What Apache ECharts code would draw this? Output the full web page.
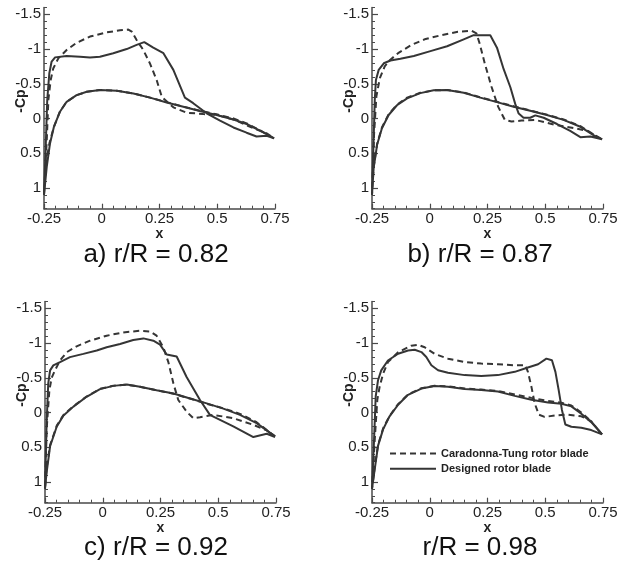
<!DOCTYPE html>
<html>
<head>
<meta charset="utf-8">
<script src="https://cdn.jsdelivr.net/npm/echarts@6/dist/echarts.min.js"></script>
<style>
html,body{margin:0;padding:0;background:#fff;}
#main{width:630px;height:567px;}
</style>
</head>
<body>
<div id="main"></div>
<script>
// ---- Data (x, Cp) ----
var xTicks = [-0.25, 0, 0.25, 0.5, 0.75];
var yTicks = [-1.5, -1, -0.5, 0, 0.5, 1];
var captions = ['a) r/R = 0.82', 'b) r/R = 0.87', 'c) r/R = 0.92', 'r/R = 0.98'];
var legendNames = ['Caradonna-Tung rotor blade', 'Designed rotor blade'];

// Panel a (r/R = 0.82)
var ctUpperA = [[-0.25,1.1],[-0.238,0.31],[-0.231,-0.27],[-0.221,-0.555],[-0.21,-0.72],[-0.188,-0.866],[-0.152,-0.986],[-0.109,-1.09],[-0.051,-1.18],[0.021,-1.24],[0.079,-1.27],[0.115,-1.28],[0.13,-1.25],[0.151,-1.13],[0.18,-0.986],[0.209,-0.79],[0.238,-0.55],[0.26,-0.31],[0.31,-0.16],[0.368,-0.083],[0.44,-0.064],[0.497,-0.05],[0.57,0.014],[0.656,0.14],[0.714,0.215],[0.746,0.287]];
var ctLowerA = [[-0.25,1.1],[-0.24,0.62],[-0.226,0.35],[-0.207,0.12],[-0.181,-0.1],[-0.152,-0.24],[-0.109,-0.335],[-0.065,-0.385],[-0.008,-0.41],[0.065,-0.4],[0.137,-0.36],[0.209,-0.3],[0.281,-0.235],[0.353,-0.17],[0.425,-0.11],[0.497,-0.06],[0.57,0.0],[0.627,0.07],[0.685,0.17],[0.746,0.287]];
var dsUpperA = [[-0.25,1.1],[-0.243,0.455],[-0.236,-0.266],[-0.227,-0.651],[-0.217,-0.82],[-0.202,-0.88],[-0.152,-0.9],[-0.094,-0.89],[-0.051,-0.88],[-0.008,-0.89],[0.05,-0.94],[0.108,-1.0],[0.151,-1.06],[0.184,-1.1],[0.223,-1.02],[0.267,-0.94],[0.31,-0.7],[0.36,-0.3],[0.396,-0.22],[0.454,-0.075],[0.512,0.03],[0.57,0.13],[0.627,0.205],[0.67,0.26],[0.714,0.25],[0.746,0.287]];
var dsLowerA = [[-0.25,1.1],[-0.238,0.695],[-0.224,0.36],[-0.207,0.12],[-0.181,-0.097],[-0.152,-0.24],[-0.109,-0.336],[-0.065,-0.385],[-0.008,-0.41],[0.065,-0.4],[0.137,-0.36],[0.209,-0.3],[0.281,-0.23],[0.353,-0.17],[0.425,-0.107],[0.497,-0.05],[0.57,0.014],[0.627,0.08],[0.685,0.176],[0.746,0.287]];

// Panel b (r/R = 0.87)
var ctUpperB = [[-0.25,1.1],[-0.241,0.22],[-0.231,-0.32],[-0.216,-0.58],[-0.195,-0.75],[-0.173,-0.84],[-0.137,-0.94],[-0.079,-1.06],[-0.022,-1.14],[0.05,-1.2],[0.122,-1.25],[0.18,-1.265],[0.202,-1.225],[0.216,-1.08],[0.238,-0.795],[0.267,-0.46],[0.296,-0.17],[0.325,0.02],[0.354,0.045],[0.397,0.03],[0.455,0.02],[0.541,0.09],[0.628,0.14],[0.685,0.18],[0.746,0.3]];
var ctLowerB = [[-0.25,1.1],[-0.243,0.7],[-0.228,0.37],[-0.207,0.13],[-0.178,-0.06],[-0.142,-0.2],[-0.098,-0.3],[-0.041,-0.37],[0.017,-0.405],[0.075,-0.41],[0.147,-0.375],[0.219,-0.305],[0.291,-0.24],[0.363,-0.175],[0.435,-0.115],[0.507,-0.055],[0.579,0.015],[0.652,0.11],[0.709,0.23],[0.746,0.3]];
var dsUpperB = [[-0.25,1.1],[-0.243,0.31],[-0.238,-0.27],[-0.233,-0.555],[-0.221,-0.7],[-0.199,-0.795],[-0.17,-0.835],[-0.127,-0.86],[-0.069,-0.9],[0.003,-0.97],[0.075,-1.04],[0.147,-1.14],[0.19,-1.2],[0.262,-1.2],[0.291,-1.02],[0.32,-0.71],[0.349,-0.45],[0.37,-0.21],[0.385,-0.07],[0.406,-0.01],[0.435,-0.01],[0.457,-0.045],[0.493,-0.01],[0.551,0.08],[0.608,0.18],[0.652,0.27],[0.695,0.26],[0.746,0.3]];
var dsLowerB = [[-0.25,1.1],[-0.243,0.72],[-0.228,0.38],[-0.207,0.14],[-0.178,-0.05],[-0.142,-0.19],[-0.098,-0.29],[-0.041,-0.365],[0.017,-0.405],[0.075,-0.41],[0.147,-0.37],[0.219,-0.3],[0.291,-0.235],[0.363,-0.17],[0.435,-0.11],[0.507,-0.05],[0.579,0.02],[0.652,0.12],[0.709,0.24],[0.746,0.3]];

// Panel c (r/R = 0.92)
var ctUpperC = [[-0.25,1.1],[-0.243,0.249],[-0.231,-0.321],[-0.221,-0.502],[-0.207,-0.606],[-0.185,-0.749],[-0.156,-0.868],[-0.113,-0.953],[-0.055,-1.034],[0.017,-1.106],[0.089,-1.153],[0.161,-1.177],[0.205,-1.167],[0.233,-1.106],[0.262,-0.939],[0.284,-0.725],[0.306,-0.416],[0.327,-0.179],[0.363,-0.012],[0.392,0.083],[0.421,0.068],[0.479,0.035],[0.565,0.083],[0.652,0.178],[0.71,0.259],[0.746,0.344]];
var ctLowerC = [[-0.25,1.1],[-0.243,0.8],[-0.228,0.47],[-0.199,0.19],[-0.171,0.04],[-0.127,-0.09],[-0.07,-0.23],[-0.012,-0.34],[0.046,-0.385],[0.104,-0.4],[0.161,-0.37],[0.233,-0.32],[0.306,-0.27],[0.378,-0.2],[0.45,-0.125],[0.522,-0.06],[0.594,0.02],[0.666,0.14],[0.746,0.344]];
var dsUpperC = [[-0.25,1.1],[-0.243,0.154],[-0.236,-0.416],[-0.228,-0.607],[-0.214,-0.678],[-0.185,-0.725],[-0.142,-0.797],[-0.084,-0.844],[-0.026,-0.892],[0.017,-0.939],[0.075,-0.987],[0.132,-1.044],[0.176,-1.067],[0.219,-1.034],[0.248,-0.977],[0.277,-0.835],[0.32,-0.806],[0.363,-0.511],[0.421,-0.179],[0.464,0.035],[0.479,0.059],[0.565,0.2],[0.652,0.354],[0.71,0.306],[0.746,0.354]];
var dsLowerC = [[-0.25,1.1],[-0.243,0.867],[-0.228,0.487],[-0.199,0.202],[-0.171,0.049],[-0.127,-0.084],[-0.07,-0.226],[-0.012,-0.336],[0.046,-0.383],[0.104,-0.402],[0.161,-0.369],[0.233,-0.321],[0.306,-0.274],[0.378,-0.202],[0.45,-0.131],[0.522,-0.055],[0.594,0.035],[0.666,0.154],[0.746,0.344]];

// Panel d (r/R = 0.98)
var ctUpperD = [[-0.25,1.1],[-0.238,0.386],[-0.227,-0.183],[-0.217,-0.37],[-0.202,-0.56],[-0.181,-0.725],[-0.137,-0.867],[-0.08,-0.962],[-0.051,-0.976],[-0.022,-0.939],[0.021,-0.844],[0.079,-0.775],[0.151,-0.727],[0.223,-0.704],[0.295,-0.694],[0.368,-0.68],[0.414,-0.68],[0.425,-0.585],[0.44,-0.372],[0.454,-0.135],[0.472,0.031],[0.497,0.064],[0.541,0.045],[0.598,0.031],[0.656,0.055],[0.699,0.126],[0.746,0.315]];
var ctLowerD = [[-0.25,1.1],[-0.238,0.78],[-0.224,0.47],[-0.202,0.23],[-0.174,0.05],[-0.137,-0.12],[-0.094,-0.26],[-0.036,-0.35],[0.021,-0.385],[0.079,-0.375],[0.151,-0.345],[0.223,-0.33],[0.295,-0.31],[0.368,-0.26],[0.44,-0.21],[0.512,-0.165],[0.57,-0.14],[0.613,-0.1],[0.656,0.0],[0.699,0.13],[0.746,0.315]];
var dsUpperD = [[-0.25,1.1],[-0.241,0.386],[-0.234,-0.23],[-0.224,-0.464],[-0.21,-0.607],[-0.181,-0.749],[-0.137,-0.846],[-0.094,-0.893],[-0.065,-0.903],[-0.036,-0.87],[-0.015,-0.799],[0.007,-0.68],[0.036,-0.609],[0.079,-0.571],[0.151,-0.538],[0.223,-0.524],[0.295,-0.538],[0.368,-0.585],[0.425,-0.647],[0.469,-0.694],[0.505,-0.775],[0.529,-0.751],[0.544,-0.585],[0.558,-0.325],[0.572,-0.04],[0.587,0.173],[0.613,0.206],[0.656,0.22],[0.699,0.254],[0.746,0.315]];
var dsLowerD = [[-0.25,1.1],[-0.238,0.813],[-0.224,0.481],[-0.202,0.244],[-0.174,0.055],[-0.137,-0.111],[-0.094,-0.254],[-0.036,-0.344],[0.021,-0.382],[0.079,-0.372],[0.151,-0.339],[0.223,-0.325],[0.295,-0.301],[0.368,-0.239],[0.44,-0.182],[0.512,-0.144],[0.57,-0.126],[0.613,-0.088],[0.656,0.017],[0.699,0.14],[0.746,0.315]];

var panels = [
  {ctU: ctUpperA, ctL: ctLowerA, dsU: dsUpperA, dsL: dsLowerA},
  {ctU: ctUpperB, ctL: ctLowerB, dsU: dsUpperB, dsL: dsLowerB},
  {ctU: ctUpperC, ctL: ctLowerC, dsU: dsUpperC, dsL: dsLowerC},
  {ctU: ctUpperD, ctL: ctLowerD, dsU: dsUpperD, dsL: dsLowerD}
];

// ---- Layout ----
var gridPos = [
  {left: 44, top: 7.4},
  {left: 372, top: 7.4},
  {left: 45, top: 301.4},
  {left: 372, top: 301.4}
];
var GW = 231, GH = 201.3;
var FONT = "'Liberation Sans', Arial, Helvetica, sans-serif";
var AX = '#4a4a4a';
var LINE = '#353535';

var grids = [], xAxes = [], yAxes = [], series = [], titles = [];
gridPos.forEach(function (g, i) {
  grids.push({left: g.left, top: g.top, width: GW, height: GH, containLabel: false});
  xAxes.push({
    type: 'value', gridIndex: i, min: xTicks[0], max: xTicks[xTicks.length - 1], interval: 0.25,
    axisLine: {show: true, onZero: false, lineStyle: {color: AX, width: 1.5}},
    axisTick: {show: true, inside: true, length: 5, lineStyle: {color: AX, width: 1.2}},
    minorTick: {show: true, splitNumber: 5, length: 3, lineStyle: {color: AX, width: 1}},
    splitLine: {show: false},
    axisLabel: {margin: 3, fontSize: 15, color: '#222', fontFamily: FONT},
    name: 'x', nameLocation: 'middle', nameGap: 12,
    nameTextStyle: {fontSize: 14, fontWeight: 'bold', color: '#222', fontFamily: FONT}
  });
  // minor-tick axis (carries the data)
  yAxes.push({
    type: 'value', gridIndex: i, inverse: true, min: -1.6, max: 1.3, interval: 0.1, position: 'left',
    axisLine: {show: true, onZero: false, lineStyle: {color: AX, width: 1.5}},
    axisTick: {show: true, inside: true, length: 3, lineStyle: {color: AX, width: 1}},
    axisLabel: {show: false},
    splitLine: {show: false},
    name: '-Cp', nameLocation: 'middle', nameRotate: 90, nameGap: 16,
    nameTextStyle: {fontSize: 14, fontWeight: 'bold', color: '#222', fontFamily: FONT, padding: [0, 0, 0, 14]}
  });
  // major ticks + labels
  yAxes.push({
    type: 'value', gridIndex: i, inverse: true, min: -1.6, max: 1.3, position: 'left',
    axisLine: {show: false, onZero: false},
    axisTick: {show: true, inside: true, length: 6, customValues: yTicks, lineStyle: {color: AX, width: 1.2}},
    axisLabel: {show: true, margin: 3, fontSize: 15, color: '#222', fontFamily: FONT, customValues: yTicks},
    splitLine: {show: false}
  });
  var p = panels[i];
  series.push({
    name: legendNames[0], type: 'line', xAxisIndex: i, yAxisIndex: 2 * i,
    data: p.ctL.slice().reverse().concat(p.ctU.slice(1)),
    symbol: 'none', smooth: false, silent: true,
    itemStyle: {color: LINE},
    lineStyle: {color: LINE, width: 2, type: [6, 4]}
  });
  series.push({
    name: legendNames[1], type: 'line', xAxisIndex: i, yAxisIndex: 2 * i,
    data: p.dsL.slice().reverse().concat(p.dsU.slice(1)),
    symbol: 'none', smooth: false, silent: true,
    itemStyle: {color: LINE},
    lineStyle: {color: LINE, width: 2, type: 'solid'}
  });
});

var capPos = [[156, 242], [480, 242], [156, 535], [480, 535]];
captions.forEach(function (c, i) {
  titles.push({
    text: c, left: capPos[i][0], top: capPos[i][1], textAlign: 'center', padding: 0,
    textStyle: {fontSize: 26, fontWeight: 'normal', color: '#111', fontFamily: FONT}
  });
});

var chart = echarts.init(document.getElementById('main'), null, {renderer: 'canvas'});
chart.setOption({
  backgroundColor: '#fff',
  animation: false,
  title: titles,
  grid: grids,
  xAxis: xAxes,
  yAxis: yAxes,
  legend: {
    show: true, orient: 'vertical', left: 389, top: 448,
    itemWidth: 46, itemHeight: 14, itemGap: 4, padding: 0,
    selectedMode: false,
    itemStyle: {opacity: 0},
    textStyle: {fontSize: 11, fontWeight: 'bold', color: '#222', fontFamily: FONT},
    data: legendNames
  },
  series: series
});
</script>
</body>
</html>
